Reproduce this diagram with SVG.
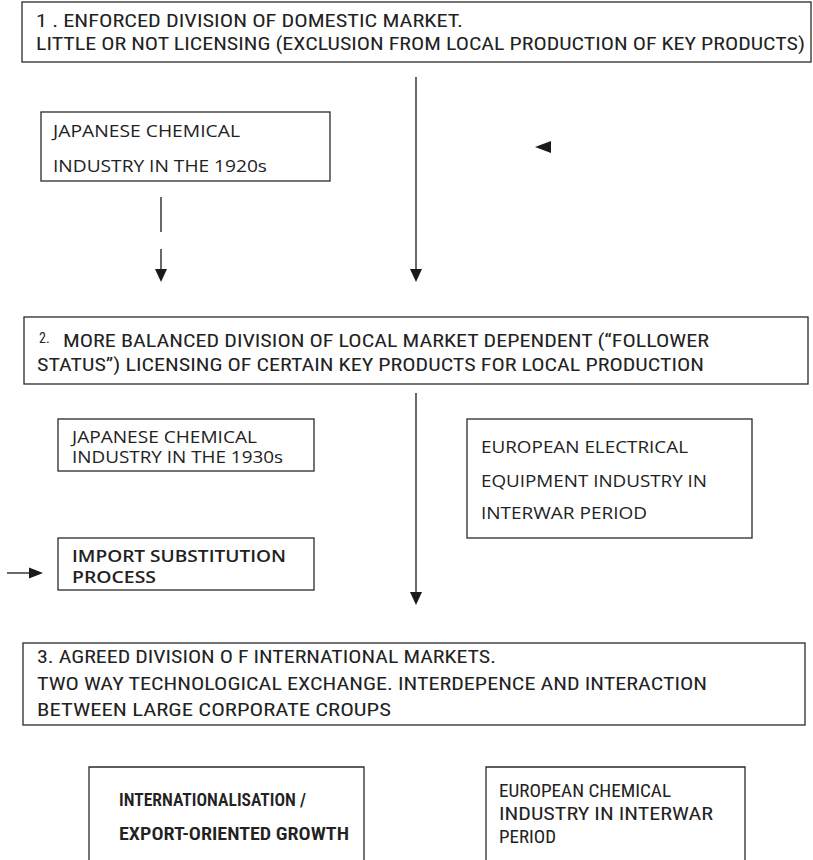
<svg xmlns="http://www.w3.org/2000/svg" width="813" height="860" viewBox="0 0 813 860">
<style>
.box{fill:#fff;stroke:#2a2a2a;stroke-width:1.3}
.open{fill:none;stroke:#2a2a2a;stroke-width:1.3}
.cond{font-family:"Liberation Sans Narrow","Roboto Condensed","Liberation Sans",sans-serif;font-size:18px;fill:#222}
.sans{font-family:"Open Sans","Noto Sans","DejaVu Sans",sans-serif;font-size:16px;fill:#222}
.bold{font-weight:600}
.line{stroke:#1a1a1a;stroke-width:1.3;fill:none}
.head{fill:#1a1a1a}
</style>
<rect width="813" height="860" fill="#fff"/>

<g id="connectors">
  <line class="line" x1="161" y1="197" x2="161" y2="232"/>
  <line class="line" x1="161" y1="249" x2="161" y2="271"/>
  <polygon class="head" points="155,269 167,269 161,282"/>
  <line class="line" x1="416" y1="77" x2="416" y2="271"/>
  <polygon class="head" points="410,269 422,269 416,282"/>
  <polygon class="head" points="551,141 551,153 535,147"/>
  <line class="line" x1="416" y1="393" x2="416" y2="594"/>
  <polygon class="head" points="410,592 422,592 416,605"/>
  <line class="line" x1="7" y1="573" x2="31" y2="573"/>
  <polygon class="head" points="29,567.5 29,578.5 43,573"/>
</g>

<g id="stage1">
  <rect class="box" x="22" y="2" width="789" height="60"/>
  <text class="cond" x="36" y="27" textLength="427" lengthAdjust="spacingAndGlyphs">1 . ENFORCED DIVISION OF DOMESTIC  MARKET.</text>
  <text class="cond" x="36" y="50" textLength="769" lengthAdjust="spacingAndGlyphs">LITTLE OR NOT LICENSING (EXCLUSION FROM LOCAL PRODUCTION OF KEY PRODUCTS)</text>
</g>

<g id="japan1920">
  <rect class="box" x="41" y="112" width="289" height="69"/>
  <text class="sans" x="53" y="137" textLength="187" lengthAdjust="spacingAndGlyphs">JAPANESE CHEMICAL</text>
  <text class="sans" x="53" y="172" textLength="214" lengthAdjust="spacingAndGlyphs">INDUSTRY IN THE 1920s</text>
</g>

<g id="stage2">
  <rect class="box" x="24" y="317" width="784" height="67"/>
  <text class="cond" x="39" y="343" style="font-size:14px">2.</text>
  <text class="cond" x="63" y="347" textLength="646" lengthAdjust="spacingAndGlyphs">MORE BALANCED DIVISION OF LOCAL MARKET DEPENDENT (“FOLLOWER</text>
  <text class="cond" x="37" y="371" textLength="667" lengthAdjust="spacingAndGlyphs">STATUS”) LICENSING OF CERTAIN KEY PRODUCTS FOR LOCAL PRODUCTION</text>
</g>

<g id="japan1930">
  <rect class="box" x="58" y="419" width="256" height="52"/>
  <text class="sans" x="72" y="443" textLength="185" lengthAdjust="spacingAndGlyphs">JAPANESE CHEMICAL</text>
  <text class="sans" x="72" y="463" textLength="211" lengthAdjust="spacingAndGlyphs">INDUSTRY IN THE 1930s</text>
</g>

<g id="importSubstitution">
  <rect class="box" x="58" y="538" width="256" height="52"/>
  <text class="sans bold" x="72" y="562" textLength="214" lengthAdjust="spacingAndGlyphs">IMPORT SUBSTITUTION</text>
  <text class="sans bold" x="72" y="583" textLength="84" lengthAdjust="spacingAndGlyphs">PROCESS</text>
</g>

<g id="europeElectrical">
  <rect class="box" x="467" y="419" width="285" height="119"/>
  <text class="sans" x="481" y="453" textLength="207" lengthAdjust="spacingAndGlyphs">EUROPEAN ELECTRICAL</text>
  <text class="sans" x="481" y="487" textLength="226" lengthAdjust="spacingAndGlyphs">EQUIPMENT INDUSTRY IN</text>
  <text class="sans" x="481" y="519" textLength="166" lengthAdjust="spacingAndGlyphs">INTERWAR PERIOD</text>
</g>

<g id="stage3">
  <rect class="box" x="23" y="643" width="782" height="82"/>
  <text class="cond" x="37" y="663" textLength="459" lengthAdjust="spacingAndGlyphs">3. AGREED DIVISION O F INTERNATIONAL MARKETS.</text>
  <text class="cond" x="37" y="690" textLength="670" lengthAdjust="spacingAndGlyphs">TWO WAY TECHNOLOGICAL EXCHANGE. INTERDEPENCE AND INTERACTION</text>
  <text class="cond" x="37" y="716" textLength="354" lengthAdjust="spacingAndGlyphs">BETWEEN LARGE CORPORATE CROUPS</text>
</g>

<g id="internationalisation">
  <path class="open" d="M89,861 V767 H364 V861"/>
  <text class="cond bold" x="119" y="806" textLength="187" lengthAdjust="spacingAndGlyphs">INTERNATIONALISATION /</text>
  <text class="cond bold" x="119" y="840" textLength="230" lengthAdjust="spacingAndGlyphs">EXPORT-ORIENTED GROWTH</text>
</g>

<g id="europeChemical">
  <path class="open" d="M486,861 V767 H745 V861"/>
  <text class="cond" x="499" y="797" textLength="172" lengthAdjust="spacingAndGlyphs">EUROPEAN CHEMICAL</text>
  <text class="cond" x="499" y="820" textLength="214" lengthAdjust="spacingAndGlyphs">INDUSTRY IN INTERWAR</text>
  <text class="cond" x="499" y="843" textLength="57" lengthAdjust="spacingAndGlyphs">PERIOD</text>
</g>
</svg>
